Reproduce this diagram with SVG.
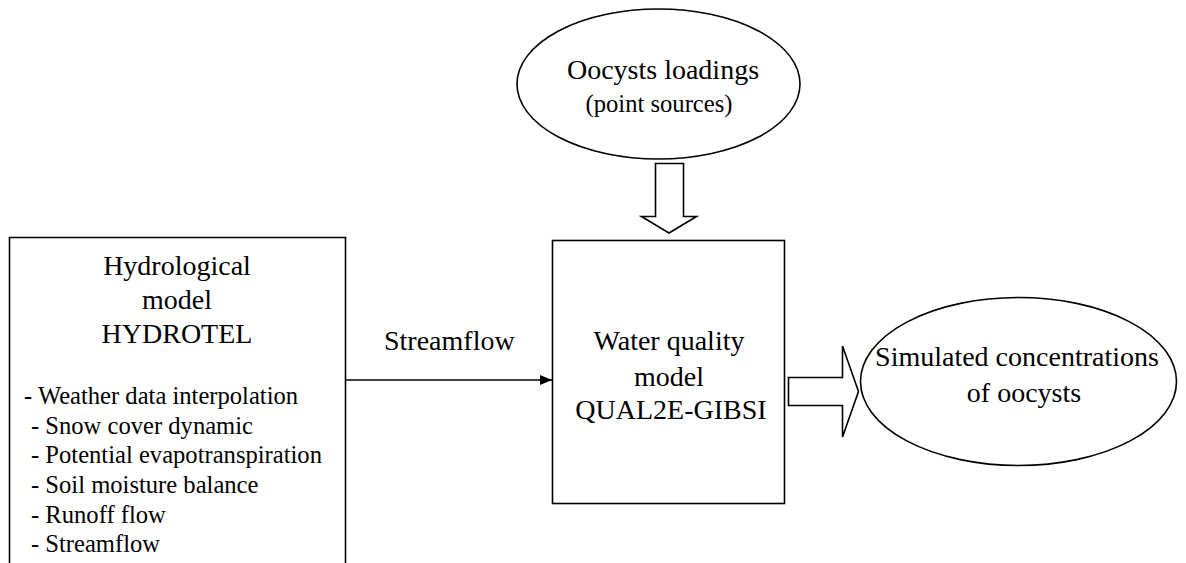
<svg xmlns="http://www.w3.org/2000/svg" width="1186" height="563" viewBox="0 0 1186 563">
  <style>
    .shape { fill: #ffffff; stroke: #000000; stroke-width: 1.6; }
    .line { fill: none; stroke: #000000; stroke-width: 1.6; }
    .t28 { font-size: 28px; }
    .t24 { font-size: 24.6px; }
    .mid { text-anchor: middle; }
  </style>
  <defs>
    <marker id="arrow" markerWidth="12" markerHeight="10" refX="12" refY="5" orient="auto" markerUnits="userSpaceOnUse">
      <path d="M0,0 L12,5 L0,10 Z" fill="#000000"/>
    </marker>
  </defs>
  <rect width="1186" height="563" fill="#ffffff"/>

  <g font-family="'Liberation Serif', 'Times New Roman', 'DejaVu Serif', serif" fill="#000000">
  <g id="hydrotel">
    <path class="line" d="M9.5,563 V237.5 H345.5 V563"/>
    <text class="t28 mid" x="177" y="275">Hydrological</text>
    <text class="t28 mid" x="177" y="309">model</text>
    <text class="t28 mid" x="177" y="343">HYDROTEL</text>
    <text class="t24" x="24" y="404">- Weather data interpolation</text>
    <text class="t24" x="31" y="434">- Snow cover dynamic</text>
    <text class="t24" x="31" y="463">- Potential evapotranspiration</text>
    <text class="t24" x="31" y="493">- Soil moisture balance</text>
    <text class="t24" x="31" y="523">- Runoff flow</text>
    <text class="t24" x="31" y="552">- Streamflow</text>
  </g>

  <g id="loadings">
    <ellipse class="shape" cx="658.5" cy="84" rx="141.5" ry="75"/>
    <text class="t28 mid" x="663" y="79">Oocysts loadings</text>
    <text class="t24 mid" x="659" y="112">(point sources)</text>
  </g>

  <g id="qual2e">
    <rect class="shape" x="552.5" y="240.5" width="232" height="263"/>
    <text class="t28 mid" x="669" y="350">Water quality</text>
    <text class="t28 mid" x="669" y="386">model</text>
    <text class="t28 mid" x="671" y="419">QUAL2E-GIBSI</text>
  </g>

  <g id="simulated">
    <ellipse class="shape" cx="1018.5" cy="381.5" rx="158" ry="84"/>
    <text class="t28 mid" x="1017" y="366">Simulated concentrations</text>
    <text class="t28 mid" x="1024" y="402">of oocysts</text>
  </g>

  <g id="connectors">
    <line class="line" x1="345.5" y1="380" x2="552" y2="380" marker-end="url(#arrow)"/>
    <text class="t28" x="384" y="350">Streamflow</text>
    <path class="shape" d="M655.5,163.5 H683.5 V216.5 H696.5 L669,233 L641.5,216.5 H655.5 Z"/>
    <path class="shape" d="M788.5,377.5 H842.5 V346 L858.5,391.5 L842.5,437 V405.5 H788.5 Z"/>
  </g>
  </g>
</svg>
